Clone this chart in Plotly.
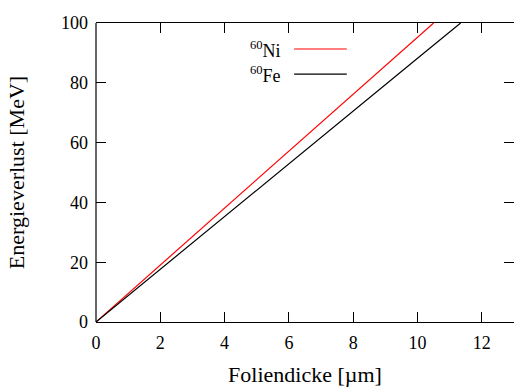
import plotly.graph_objects as go

# Energy loss of 60Ni and 60Fe ions in a foil, vs. foil thickness
thickness_ni = [0, 2, 4, 6, 8, 10, 10.5]
eloss_ni = [0, 19.1, 38.2, 57.2, 76.2, 95.2, 100]

thickness_fe = [0, 2, 4, 6, 8, 10, 11.34]
eloss_fe = [0, 17.7, 35.4, 53.0, 70.6, 88.2, 100]

series = [
    ("<sup>60</sup>Ni", thickness_ni, eloss_ni, "#ff0000"),
    ("<sup>60</sup>Fe", thickness_fe, eloss_fe, "#000000"),
]

x_ticks = [0, 2, 4, 6, 8, 10, 12]
y_ticks = [0, 20, 40, 60, 80, 100]

FONT = "Liberation Serif"

fig = go.Figure()
for name, xs, ys, col in series:
    fig.add_trace(go.Scatter(x=xs, y=ys, mode="lines", name=name,
                             line=dict(color=col, width=1.2), showlegend=False))

# key drawn gnuplot-style: label on the left, sample line on the right
key_rows = [0.913, 0.829]
for (name, xs, ys, col), yk in zip(series, key_rows):
    fig.add_annotation(xref="paper", yref="paper", x=0.447, y=yk, text=name,
                       showarrow=False, xanchor="right", yanchor="middle",
                       font=dict(family=FONT, size=18, color="black"))
    fig.add_shape(type="line", xref="paper", yref="paper", x0=0.474, x1=0.600,
                  y0=yk, y1=yk, line=dict(color=col, width=1.2))

# left border
fig.add_shape(type="line", xref="paper", yref="paper", x0=0, x1=0, y0=0, y1=1,
              line=dict(color="black", width=1.2))

fig.update_layout(
    width=514, height=387,
    margin=dict(l=96, r=0, t=23, b=65),
    paper_bgcolor="white", plot_bgcolor="white",
    font=dict(family=FONT, size=18, color="black"),
    xaxis=dict(range=[0, 13], tickvals=x_ticks, ticks="inside", ticklen=10,
               tickwidth=1, tickcolor="black", showline=True, linecolor="black",
               linewidth=1.2, mirror="ticks", showgrid=False, zeroline=False,
               ticklabelstandoff=4,
               title=dict(text="Foliendicke [µm]", standoff=14)),
    yaxis=dict(range=[0, 100], tickvals=y_ticks, ticks="inside", ticklen=10,
               tickwidth=1, tickcolor="black", showline=False, mirror="ticks",
               showgrid=False, zeroline=False, ticklabelstandoff=7,
               title=dict(text="Energieverlust [MeV]", standoff=30)),
)

fig.write_html("out.html")
